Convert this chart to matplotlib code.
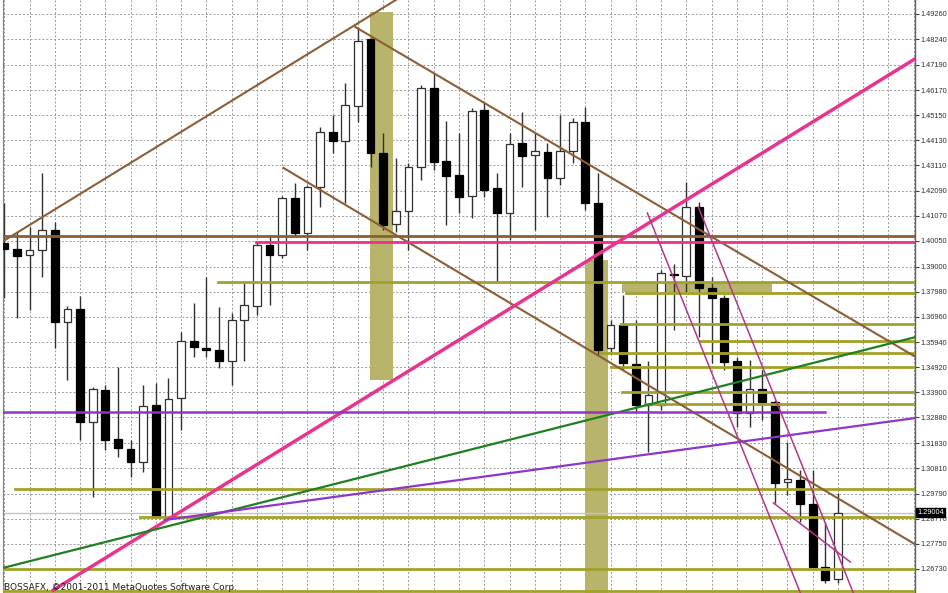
import matplotlib
matplotlib.use("Agg")
import matplotlib.pyplot as plt
from matplotlib.patches import Rectangle
import numpy as np

# ---------------- data (EURUSD-like daily candles) ----------------
opens = [1.3996, 1.3972, 1.3947, 1.3968, 1.4049, 1.3675, 1.3728, 1.3270, 1.3399, 1.3200,
         1.3160, 1.3107, 1.3339, 1.2884, 1.3367, 1.3598, 1.3570, 1.3562, 1.3517, 1.3684,
         1.3740, 1.3988, 1.3947, 1.4179, 1.4037, 1.4224, 1.4447, 1.4410, 1.4552, 1.4824,
         1.4362, 1.4073, 1.4126, 1.4305, 1.4626, 1.4329, 1.4272, 1.4187, 1.4536, 1.4220,
         1.4118, 1.4402, 1.4354, 1.4366, 1.4260, 1.4370, 1.4487, 1.4159, 1.3570, 1.3663,
         1.3505, 1.3339, 1.3339, 1.3870, 1.3862, 1.4142, 1.3813, 1.3773, 1.3517, 1.3306,
         1.3404, 1.3351, 1.3026, 1.3034, 1.2937, 1.2681, 1.2632]
highs = [1.4159, 1.4041, 1.4061, 1.4280, 1.4082, 1.3740, 1.3781, 1.3412, 1.3420, 1.3493,
         1.3196, 1.3420, 1.3428, 1.3448, 1.3635, 1.3753, 1.3858, 1.3736, 1.3712, 1.3834,
         1.4000, 1.4029, 1.4187, 1.4240, 1.4232, 1.4467, 1.4516, 1.4646, 1.4873, 1.4830,
         1.4443, 1.4341, 1.4321, 1.4638, 1.4686, 1.4492, 1.4443, 1.4544, 1.4569, 1.4280,
         1.4443, 1.4528, 1.4443, 1.4402, 1.4516, 1.4504, 1.4548, 1.4280, 1.3684, 1.3785,
         1.3684, 1.3517, 1.3887, 1.3911, 1.4244, 1.4163, 1.3858, 1.3785, 1.3533, 1.3521,
         1.3481, 1.3359, 1.3188, 1.3075, 1.3075, 1.2864, 1.2981]
lows = [1.3773, 1.3692, 1.3724, 1.3858, 1.3570, 1.3440, 1.3196, 1.2965, 1.3156, 1.3127,
        1.3046, 1.3067, 1.2884, 1.2884, 1.3237, 1.3533, 1.3533, 1.3489, 1.3420, 1.3517,
        1.3704, 1.3744, 1.3935, 1.4025, 1.3968, 1.4142, 1.4362, 1.4159, 1.4487, 1.4305,
        1.4049, 1.4041, 1.3968, 1.4252, 1.4293, 1.4069, 1.4118, 1.4098, 1.4183, 1.3834,
        1.4008, 1.4224, 1.4049, 1.4102, 1.4232, 1.4321, 1.4130, 1.3542, 1.3554, 1.3481,
        1.3310, 1.3148, 1.3318, 1.3643, 1.3793, 1.3615, 1.3509, 1.3481, 1.3249, 1.3249,
        1.3278, 1.2941, 1.2973, 1.2864, 1.2681, 1.2616, 1.2616]
closes = [1.3972, 1.3943, 1.3968, 1.4049, 1.3675, 1.3728, 1.3270, 1.3404, 1.3196, 1.3164,
          1.3107, 1.3334, 1.2884, 1.3363, 1.3598, 1.3574, 1.3562, 1.3517, 1.3684, 1.3744,
          1.3988, 1.3947, 1.4179, 1.4037, 1.4224, 1.4447, 1.4410, 1.4556, 1.4816, 1.4362,
          1.4069, 1.4126, 1.4305, 1.4626, 1.4325, 1.4268, 1.4183, 1.4532, 1.4211, 1.4118,
          1.4398, 1.4349, 1.4370, 1.4260, 1.4370, 1.4487, 1.4159, 1.3562, 1.3663, 1.3509,
          1.3339, 1.3379, 1.3874, 1.3866, 1.4142, 1.3813, 1.3773, 1.3513, 1.3306, 1.3404,
          1.3351, 1.3022, 1.3038, 1.2937, 1.2681, 1.2628, 1.29004]

price_labels = [1.49260, 1.48240, 1.47190, 1.46170, 1.45150, 1.44130, 1.43110, 1.42090,
                1.41070, 1.40050, 1.39000, 1.37980, 1.36960, 1.35940, 1.34920, 1.33900,
                1.32880, 1.31830, 1.30810, 1.29790, 1.28770, 1.27750, 1.26730]
last_price = 1.29004

# trend lines: (bar0, price0, bar1, price1)
brown_lines = [(-0.2, 1.4000, 31.0, 1.4983),
               (27.8, 1.4873, 72.3, 1.3529),
               (22.1, 1.4301, 72.2, 1.2770)]
brown_hline = 1.4025
pink_hline = (19.9, 1.4000)
pink_line = (3.88, 1.2587, 72.2, 1.4747)
green_line = (-0.1, 1.2677, 72.2, 1.3615)
purple_line = (12.75, 1.2872, 72.2, 1.3286)
purple_hline = (-0.1, 65.0, 1.3310)
magenta_lines = [(50.91, 1.4118, 63.03, 1.2575),
                 (54.95, 1.4142, 67.22, 1.2575),
                 (60.89, 1.2941, 66.98, 1.2701)]
olive_levels = [1.3838, 1.3793, 1.3667, 1.3598, 1.3550, 1.3493, 1.3391, 1.3343,
                1.2997, 1.2884, 1.2673, 1.2583]
olive_starts = [16.9, 49.2, 48.8, 55.1, 47.2, 48.0, 48.9, 50.75, 0.87, 10.77, -0.2, -0.2]
# rectangles: (bar0, bar1, price_low, price_high)
olive_rects = [(28.98, 30.8, 1.3440, 1.4934),
               (46.0, 47.8, 1.2560, 1.3927),
               (48.9, 60.8, 1.3797, 1.3838)]

# ---------------- figure ----------------
W, H = 948, 593
fig = plt.figure(figsize=(W / 100, H / 100), dpi=100)
fig.patch.set_facecolor("white")
ax = fig.add_axes([3 / W, 0, 912 / W, 1])
XMIN, XMAX = -0.1, 72.1
YMIN, YMAX = 1.25752, 1.49828
ax.set_xlim(XMIN, XMAX)
ax.set_ylim(YMIN, YMAX)
ax.set_facecolor("white")

LABEL_FONT = ["Liberation Sans", "DejaVu Sans"]
LABEL_SIZE = 5.3

# grid
for gx in range(0, 73, 2):
    ax.axvline(gx, color="#9a9a9a", lw=0.7, ls=(0, (2, 2)), zorder=0)
for gy in price_labels:
    ax.axhline(gy, color="#9a9a9a", lw=0.7, ls=(0, (2, 2)), zorder=0)

# rectangles (behind candles)
OLIVE_FILL = "#b8b46c"
for b0, b1, plo, phi in olive_rects:
    ax.add_patch(Rectangle((b0, plo), b1 - b0, phi - plo, facecolor=OLIVE_FILL,
                           edgecolor="none", zorder=1))

# last-price gray line
ax.axhline(last_price, color="#c4c4c4", lw=1.0, zorder=1)

# candles
bw = 0.62
for i, (o, h, l, c) in enumerate(zip(opens, highs, lows, closes)):
    ax.plot([i, i], [l, h], color="#303030", lw=1.0, zorder=2, solid_capstyle="butt")
    lo, hi = min(o, c), max(o, c)
    hgt = max(hi - lo, 0.0003)
    if c >= o:
        ax.add_patch(Rectangle((i - bw / 2, lo), bw, hgt, facecolor="white",
                               edgecolor="#303030", lw=0.9, zorder=3))
    else:
        ax.add_patch(Rectangle((i - bw / 2, lo), bw, hgt, facecolor="black",
                               edgecolor="black", lw=0.9, zorder=3))

# olive horizontal levels
for lv, st in zip(olive_levels, olive_starts):
    ax.plot([st, XMAX + 1], [lv, lv], color="#a2a22a", lw=2.0, zorder=4)


def extend_right(b0, p0, b1, p1, xend=XMAX + 2):
    slope = (p1 - p0) / (b1 - b0)
    return [b0, xend], [p0, p0 + slope * (xend - b0)]


# brown lines (rays to the right)
BROWN = "#8c5e36"
for b0, p0, b1, p1 in brown_lines:
    xs, ys = extend_right(b0, p0, b1, p1)
    ax.plot(xs, ys, color=BROWN, lw=1.5, zorder=5)
ax.axhline(brown_hline, color=BROWN, lw=2.0, zorder=5)

# pink
PINK = "#e8348e"
ax.plot([pink_hline[0], XMAX + 1], [pink_hline[1], pink_hline[1]], color=PINK, lw=2.0, zorder=5)
xs, ys = extend_right(*pink_line)
ax.plot(xs, ys, color=PINK, lw=2.5, zorder=5)

# green
ax.plot([green_line[0], green_line[2]], [green_line[1], green_line[3]], color="#1f8020", lw=1.6, zorder=5)

# purple
PURPLE = "#8f35c8"
ax.plot([purple_line[0], purple_line[2]], [purple_line[1], purple_line[3]], color=PURPLE, lw=1.6, zorder=5)
ax.plot([purple_hline[0], purple_hline[1]], [purple_hline[2], purple_hline[2]], color=PURPLE, lw=1.8, zorder=5)

# thin magenta channel
for b0, p0, b1, p1 in magenta_lines:
    ax.plot([b0, b1], [p0, p1], color="#b4378c", lw=1.1, zorder=5)

# axes styling
for s in ["top", "bottom"]:
    ax.spines[s].set_visible(False)
ax.spines["left"].set_color("#808080")
ax.spines["right"].set_color("#606060")
ax.spines["right"].set_linewidth(1.0)
ax.set_xticks([])
ax.yaxis.tick_right()
ax.set_yticks(price_labels)
ax.set_yticklabels([f"{v:.5f}" for v in price_labels])
ax.tick_params(axis="y", direction="out", length=3, width=0.8, colors="#404040",
               labelsize=LABEL_SIZE, labelcolor="#303030", pad=1.0)
for t in ax.get_yticklabels():
    t.set_family(LABEL_FONT)

# last price label
ax.text(1.0 + 2 / 912, last_price + 0.0003, f"{last_price:.5f}", transform=ax.get_yaxis_transform(),
        fontsize=LABEL_SIZE, family=LABEL_FONT, color="white", va="center", ha="left", zorder=10,
        bbox=dict(boxstyle="square,pad=0.15", facecolor="black", edgecolor="black"),
        clip_on=False)

# bottom watermark
fig.text(4 / W, 1 / H, "BOSSAFX, ©2001-2011 MetaQuotes Software Corp.", fontsize=6.5,
         color="#202020", ha="left", va="bottom", zorder=20)

fig.savefig("out.png", dpi=100, facecolor="white")
